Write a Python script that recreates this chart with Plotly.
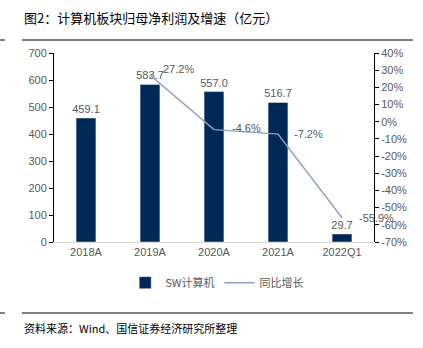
import plotly.graph_objects as go

categories = ["2018A", "2019A", "2020A", "2021A", "2022Q1"]
profit = [459.1, 583.7, 557.0, 516.7, 29.7]
growth_cats = ["2019A", "2020A", "2021A", "2022Q1"]
growth = [27.2, -4.6, -7.2, -55.9]
left_ticks = [0, 100, 200, 300, 400, 500, 600, 700]
right_ticks = [40, 30, 20, 10, 0, -10, -20, -30, -40, -50, -60, -70]

font_en = "Liberation Sans, Arial, sans-serif"
font_cn = "Noto Sans CJK SC"
gray = "#595959"

fig = go.Figure()
fig.add_trace(go.Bar(
    x=categories, y=profit, name="SW计算机",
    marker_color="#002856", width=0.31,
    text=[f"{v:.1f}" for v in profit], textposition="outside",
    constraintext="none",
    textfont=dict(family=font_en, size=11, color=gray),
    cliponaxis=False,
))
fig.add_trace(go.Scatter(
    x=growth_cats, y=growth, name="同比增长", yaxis="y2",
    mode="lines", line=dict(color="#8EA2C6", width=1.5),
    cliponaxis=False,
))

for c, v, dx, dy in zip(growth_cats, growth, [11, 16, 14, 15], [-6, -2, 0, 0]):
    fig.add_annotation(x=c, y=v, xref="x", yref="y2", text=f"{v:.1f}%",
                       showarrow=False, xanchor="left", yanchor="middle",
                       xshift=dx, yshift=-dy,
                       font=dict(family=font_en, size=11, color=gray))

fig.update_layout(
    width=423, height=348,
    margin=dict(l=54, r=49, t=53, b=106, autoexpand=False),
    paper_bgcolor="white", plot_bgcolor="white",
    showlegend=True,
    legend=dict(orientation="h", x=0.51, xanchor="center", y=-0.215, yanchor="middle",
                font=dict(family=font_cn, size=11, color=gray),
                itemwidth=30, tracegroupgap=0),
    bargap=0.69,
    xaxis=dict(type="category", range=[-0.5, len(categories) - 0.5],
               showline=True, linecolor="#d9d9d9", linewidth=1,
               ticks="", tickfont=dict(family=font_en, size=11, color=gray),
               showgrid=False, automargin=False),
    yaxis=dict(range=[0, 700], tickvals=left_ticks, showline=True, linecolor="#000000",
               linewidth=1, ticks="outside", ticklen=4, tickcolor="#000000",
               tickfont=dict(family=font_en, size=11, color=gray), showgrid=False,
               zeroline=False, automargin=False),
    yaxis2=dict(range=[-70, 40], tickvals=right_ticks,
                ticktext=[f"{v}%" for v in right_ticks],
                overlaying="y", side="right", showline=True, linecolor="#000000",
                linewidth=1, ticks="outside", ticklen=4, tickcolor="#000000",
                tickfont=dict(family=font_en, size=11, color=gray), showgrid=False,
                zeroline=False, automargin=False),
    font=dict(family=font_en),
)

fig.add_annotation(text="图2：计算机板块归母净利润及增速（亿元）", xref="paper", yref="paper",
                   x=(22-54)/320, y=1 + (53-17)/189, xanchor="left", yanchor="middle",
                   showarrow=False, font=dict(family=font_cn, size=13, color="#000000"))
fig.add_annotation(text="资料来源：Wind、国信证券经济研究所整理", xref="paper", yref="paper",
                   x=(22-54)/320, y=-(328-242)/189, xanchor="left", yanchor="middle",
                   showarrow=False, font=dict(family=font_cn, size=11, color="#000000"))

def hline(x0, x1, y):
    fig.add_shape(type="line", xref="paper", yref="paper",
                  x0=(x0-54)/320, x1=(x1-54)/320,
                  y0=(242-y)/189, y1=(242-y)/189,
                  line=dict(color="#000000", width=1))

hline(22, 413, 40)
hline(0, 5, 40)
hline(22, 413, 313)
hline(0, 5, 313)

fig.write_html("out.html")
